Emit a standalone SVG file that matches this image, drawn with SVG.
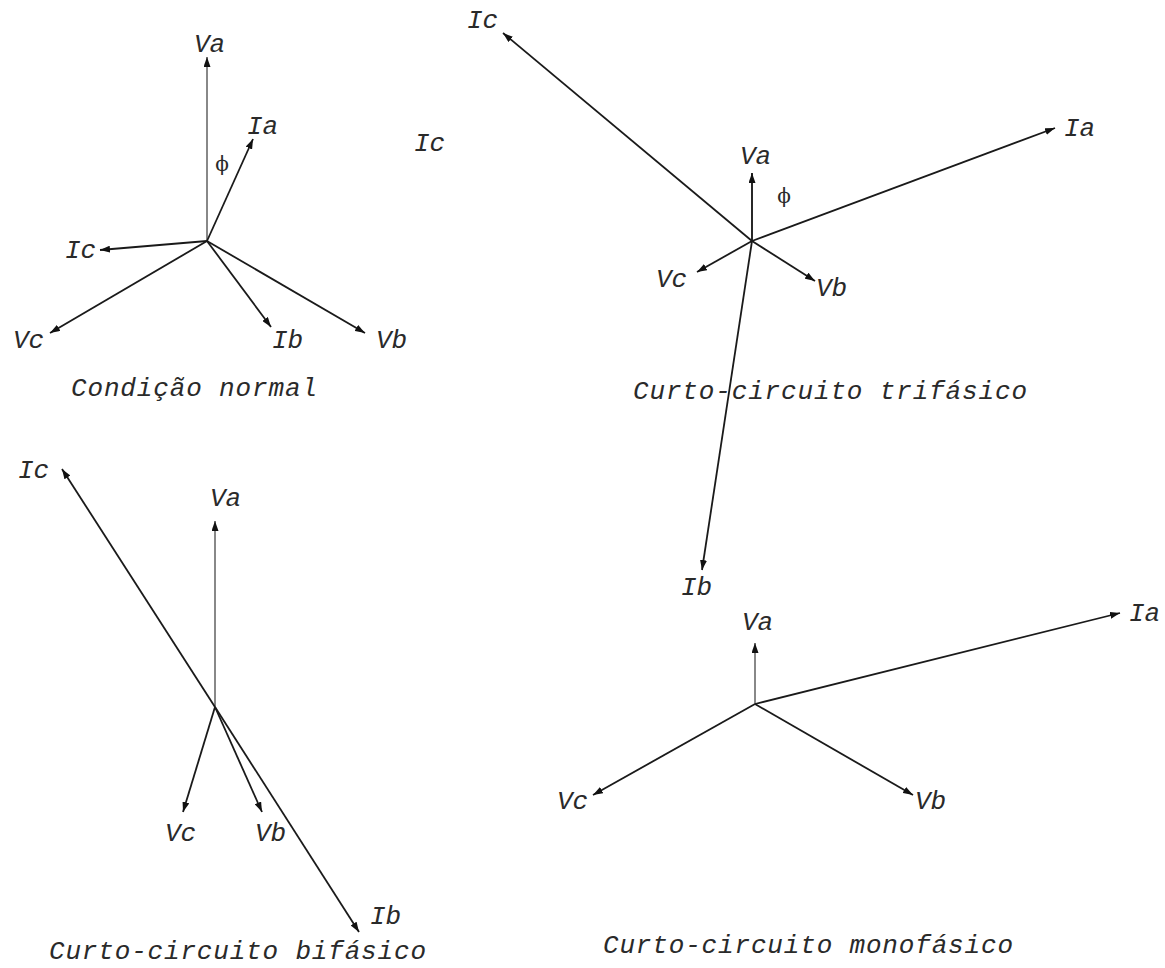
<svg xmlns="http://www.w3.org/2000/svg" width="1165" height="968" viewBox="0 0 1165 968">
<style>
.v{stroke:#1a1a1a;stroke-width:1.8;fill:none;marker-end:url(#ah)}
.g{stroke:#888;stroke-width:2;fill:none;marker-end:url(#ah)}
.k{stroke:#111;stroke-width:1.8;fill:none;marker-end:url(#ah)}
text{font-family:"Liberation Mono","Courier New",monospace;font-style:italic;font-size:26px;fill:#2a2a2a}
.phi{font-family:"DejaVu Serif","Liberation Serif",serif;font-style:normal;font-size:20px;text-anchor:middle}
</style>
<defs>
<marker id="ah" markerUnits="userSpaceOnUse" markerWidth="11" markerHeight="7" refX="10" refY="3.5" orient="auto">
<path d="M0,0 L10,3.5 L0,7 z" fill="#111"/>
</marker>
</defs>
<rect width="1165" height="968" fill="#fff"/>
<g id="connectors">
<!-- panel 1 -->
<line class="g" x1="207" y1="241" x2="207" y2="57"/>
<line class="v" x1="207" y1="241" x2="253" y2="139"/>
<line class="v" x1="207" y1="241" x2="100" y2="250"/>
<line class="v" x1="207" y1="241" x2="50" y2="333"/>
<line class="v" x1="207" y1="241" x2="271" y2="327"/>
<line class="v" x1="207" y1="241" x2="365" y2="333"/>
<!-- panel 2 -->
<line class="k" x1="752" y1="241" x2="752" y2="173"/>
<line class="v" x1="752" y1="241" x2="503" y2="33"/>
<line class="v" x1="752" y1="241" x2="1055" y2="128"/>
<line class="v" x1="752" y1="241" x2="697" y2="272"/>
<line class="v" x1="752" y1="241" x2="815" y2="281"/>
<line class="v" x1="752" y1="241" x2="702" y2="570"/>
<!-- panel 3 -->
<line class="g" x1="215" y1="707" x2="215" y2="521"/>
<line class="v" x1="215" y1="707" x2="62" y2="469"/>
<line class="v" x1="215" y1="707" x2="359" y2="932"/>
<line class="v" x1="215" y1="707" x2="183" y2="812"/>
<line class="v" x1="215" y1="707" x2="262" y2="812"/>
<!-- panel 4 -->
<line class="g" x1="755" y1="704" x2="755" y2="643"/>
<line class="v" x1="755" y1="704" x2="1120" y2="613"/>
<line class="v" x1="755" y1="704" x2="593" y2="795"/>
<line class="v" x1="755" y1="704" x2="913" y2="795"/>
</g>
<g id="panel-normal">
<text x="194" y="52">Va</text>
<text x="247" y="134">Ia</text>
<text class="phi" x="222" y="171">ϕ</text>
<text x="65" y="258">Ic</text>
<text x="13" y="348">Vc</text>
<text x="272" y="348">Ib</text>
<text x="376" y="348">Vb</text>
<text x="414" y="151">Ic</text>
<text x="71" y="396" textLength="246" lengthAdjust="spacing">Condição normal</text>
</g>
<g id="panel-trifasico">
<text x="467" y="28">Ic</text>
<text x="1064" y="136">Ia</text>
<text x="740" y="164">Va</text>
<text class="phi" x="784" y="203">ϕ</text>
<text x="656" y="287">Vc</text>
<text x="816" y="296">Vb</text>
<text x="681" y="595">Ib</text>
<text x="633" y="399" textLength="394" lengthAdjust="spacing">Curto-circuito trifásico</text>
</g>
<g id="panel-bifasico">
<text x="18" y="478">Ic</text>
<text x="210" y="506">Va</text>
<text x="165" y="841">Vc</text>
<text x="255" y="841">Vb</text>
<text x="370" y="924">Ib</text>
<text x="49" y="959" textLength="377" lengthAdjust="spacing">Curto-circuito bifásico</text>
</g>
<g id="panel-monofasico">
<text x="742" y="630">Va</text>
<text x="1129" y="621">Ia</text>
<text x="557" y="809">Vc</text>
<text x="915" y="809">Vb</text>
<text x="603" y="953" textLength="410" lengthAdjust="spacing">Curto-circuito monofásico</text>
</g>
</svg>
